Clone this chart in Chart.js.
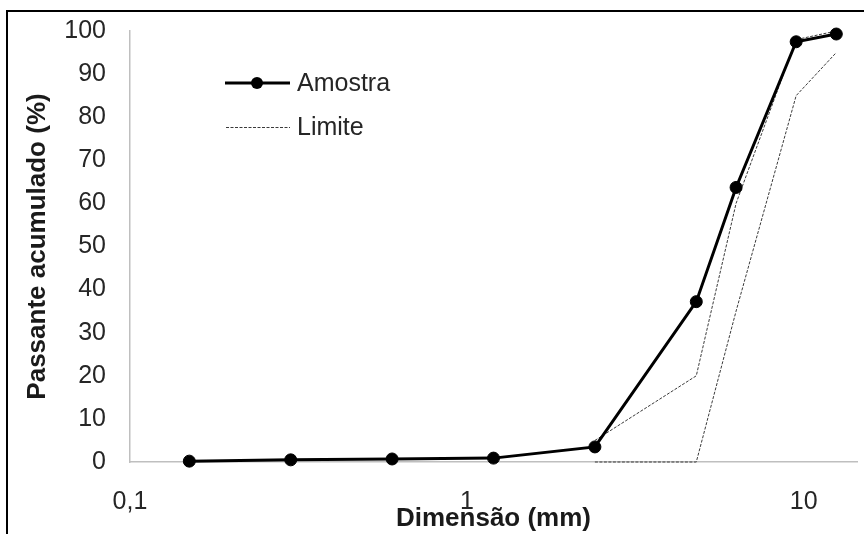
<!DOCTYPE html>
<html><head><meta charset="utf-8">
<script src="https://cdn.jsdelivr.net/npm/chart.js@4/dist/chart.umd.min.js"></script>
<style>
html,body{margin:0;padding:0;background:#fff;overflow:hidden}
#frame{position:absolute;left:6px;top:10px;width:900px;height:600px;border:2px solid #000;box-sizing:border-box}
#wrap{position:absolute;left:0;top:0;width:864px;height:534px}
</style></head><body>
<div id="frame"></div>
<div id="wrap"><canvas id="c" width="864" height="534"></canvas></div>
<script>
// Granulometria: peneiras (mm) e passante acumulado (%)
const sizes = [0.15, 0.3, 0.6, 1.2, 2.4, 4.8, 6.3, 9.5, 12.5];
const amostra = [0.2, 0.5, 0.7, 0.9, 3.5, 37.2, 63.7, 97.5, 99.3];
const limiteSizes = [2.4, 4.8, 6.3, 9.5, 12.5];
const limiteInferior = [0, 0, 35, 85, 95];
const limiteSuperior = [5, 20, 60, 98, 100];
const xTicks = [0.1, 1, 10];
const xTickLabels = ['0,1', '1', '10'];

const pts = (xs, ys) => xs.map((x, i) => ({x: x, y: ys[i]}));
const FONT = "'Liberation Sans', Arial, sans-serif";

const dashStyle = {
  showLine: true, borderColor: '#3a3a3a', borderWidth: 1, borderDash: [3, 1.5],
  pointRadius: 0, pointHoverRadius: 0, fill: false, tension: 0, clip: false
};

// legenda desenhada dentro da área do gráfico
const legendaInterna = {
  id: 'legendaInterna',
  afterDraw(chart) {
    const ctx = chart.ctx;
    const a = chart.data.datasets[0];
    const l = chart.data.datasets[1];
    ctx.save();
    // Amostra
    ctx.strokeStyle = a.borderColor; ctx.lineWidth = a.borderWidth; ctx.setLineDash([]);
    ctx.beginPath(); ctx.moveTo(225, 83); ctx.lineTo(290, 83); ctx.stroke();
    ctx.fillStyle = a.pointBackgroundColor;
    ctx.beginPath(); ctx.arc(257, 83, a.pointRadius, 0, Math.PI * 2); ctx.fill();
    // Limite
    ctx.strokeStyle = l.borderColor; ctx.lineWidth = l.borderWidth; ctx.setLineDash(l.borderDash);
    ctx.beginPath(); ctx.moveTo(226, 127.5); ctx.lineTo(290, 127.5); ctx.stroke();
    ctx.setLineDash([]);
    ctx.fillStyle = '#262626';
    ctx.font = '25px ' + FONT;
    ctx.textBaseline = 'middle'; ctx.textAlign = 'left';
    ctx.fillText(a.label, 297, 84);
    ctx.fillText(l.label, 297, 128);
    ctx.restore();
  }
};

new Chart(document.getElementById('c'), {
  type: 'scatter',
  data: {
    datasets: [
      {
        label: 'Amostra', data: pts(sizes, amostra), showLine: true,
        borderColor: '#000', borderWidth: 3, backgroundColor: '#000',
        pointBackgroundColor: '#000', pointBorderColor: '#000', pointBorderWidth: 1,
        pointRadius: 6, pointHoverRadius: 6, tension: 0, clip: false
      },
      Object.assign({label: 'Limite', data: pts(limiteSizes, limiteInferior)}, dashStyle),
      Object.assign({label: 'Limite superior', data: pts(limiteSizes, limiteSuperior)}, dashStyle)
    ]
  },
  options: {
    responsive: false, devicePixelRatio: 1, animation: false,
    layout: {padding: {left: 0, right: 0, top: 19, bottom: 0}},
    plugins: {legend: {display: false}, tooltip: {enabled: false}},
    scales: {
      x: {
        type: 'logarithmic', min: 0.1, max: 14.4,
        afterBuildTicks: s => { s.ticks = xTicks.map(v => ({value: v})); },
        afterFit: s => { s.height = 72; },
        ticks: {
          autoSkip: false, maxRotation: 0, padding: 17, color: '#262626',
          font: {family: FONT, size: 25},
          callback: v => { const i = xTicks.indexOf(v); return i >= 0 ? xTickLabels[i] : ''; }
        },
        grid: {display: false},
        border: {display: true, color: '#bfbfbf', width: 1.5},
        title: {display: true, text: 'Dimensão (mm)', color: '#1a1a1a',
                font: {family: FONT, size: 26, weight: 'bold'}, padding: {top: 0, bottom: 0}}
      },
      y: {
        min: 0, max: 100,
        afterFit: s => { s.width = 130; },
        ticks: {stepSize: 10, padding: 16, color: '#262626', font: {family: FONT, size: 25}},
        grid: {display: false},
        border: {display: true, color: '#bfbfbf', width: 1.5},
        title: {display: true, text: 'Passante acumulado (%)', color: '#1a1a1a',
                font: {family: FONT, size: 26, weight: 'bold'}, padding: {top: 22, bottom: 0}}
      }
    }
  },
  plugins: [legendaInterna]
});
</script>
</body></html>
